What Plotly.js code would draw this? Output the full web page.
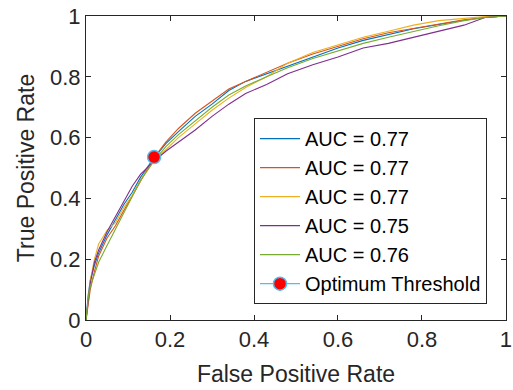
<!DOCTYPE html>
<html>
<head>
<meta charset="utf-8">
<script src="https://cdn.plot.ly/plotly-3.0.1.min.js"></script>
<style>html,body{margin:0;padding:0;background:#fff;}#chart{width:513px;height:390px;}</style>
</head>
<body>
<div id="chart"></div>
<script>
const fpr = [0, 0.005, 0.01, 0.02, 0.03, 0.05, 0.07, 0.09, 0.11, 0.13, 0.16, 0.19, 0.22, 0.26, 0.30, 0.34, 0.38, 0.43, 0.48, 0.54, 0.60, 0.66, 0.72, 0.78, 0.84, 0.90, 0.95, 1];
const tprBlue   = [0, 0.08, 0.13, 0.18, 0.22, 0.28, 0.33, 0.38, 0.42, 0.47, 0.53, 0.58, 0.62, 0.67, 0.71, 0.755, 0.785, 0.81, 0.835, 0.865, 0.895, 0.92, 0.94, 0.958, 0.972, 0.986, 0.995, 1];
const tprOrange = [0, 0.05, 0.10, 0.16, 0.21, 0.27, 0.31, 0.36, 0.41, 0.46, 0.53, 0.585, 0.63, 0.68, 0.72, 0.76, 0.785, 0.815, 0.845, 0.875, 0.90, 0.925, 0.945, 0.96, 0.975, 0.988, 0.996, 1];
const tprYellow = [0, 0.07, 0.13, 0.20, 0.25, 0.295, 0.32, 0.37, 0.41, 0.46, 0.52, 0.56, 0.60, 0.645, 0.69, 0.73, 0.765, 0.80, 0.845, 0.88, 0.905, 0.93, 0.95, 0.97, 0.985, 0.993, 0.998, 1];
const tprPurple = [0, 0.06, 0.12, 0.19, 0.23, 0.29, 0.34, 0.39, 0.44, 0.48, 0.52, 0.555, 0.585, 0.625, 0.67, 0.71, 0.745, 0.775, 0.81, 0.84, 0.865, 0.895, 0.91, 0.93, 0.95, 0.97, 0.995, 1];
const tprGreen  = [0, 0.07, 0.11, 0.15, 0.19, 0.245, 0.30, 0.35, 0.41, 0.46, 0.52, 0.57, 0.61, 0.655, 0.70, 0.74, 0.77, 0.80, 0.83, 0.86, 0.885, 0.91, 0.93, 0.95, 0.968, 0.985, 0.995, 1];
const labels = ["AUC = 0.77", "AUC = 0.77", "AUC = 0.77", "AUC = 0.75", "AUC = 0.76"];
const colors = ["#0072BD", "#D95319", "#EDB120", "#7E2F8E", "#77AC30"];
const optX = [0.162];
const optY = [0.536];
const tickVals = [0, 0.2, 0.4, 0.6, 0.8, 1];
const tickText = ["0", "0.2", "0.4", "0.6", "0.8", "1"];

const series = [tprBlue, tprOrange, tprYellow, tprPurple, tprGreen];
const traces = series.map((ys, i) => ({
  x: fpr, y: ys, type: "scatter", mode: "lines", name: labels[i],
  line: {color: colors[i], width: 1.1}
}));
traces.push({
  x: optX, y: optY, type: "scatter", mode: "lines+markers", name: "Optimum Threshold",
  line: {color: "#4DBEEE", width: 1.1},
  marker: {color: "#FF0000", size: 13, line: {color: "#4DBEEE", width: 1.5}}
});

const FF = "Liberation Sans, Arial, sans-serif";
const axisFont = {family: FF, size: 22, color: "#262626"};
const layout = {
  width: 513, height: 390,
  margin: {l: 86, r: 7, t: 16, b: 70},
  paper_bgcolor: "#fff", plot_bgcolor: "#fff",
  showlegend: true,
  font: {family: FF, color: "#262626"},
  xaxis: {
    range: [-0.0001, 1.0001], tickvals: tickVals, ticktext: tickText, ticklabeloverflow: "allow",
    showgrid: false, zeroline: false, showline: true, linecolor: "#262626", linewidth: 1,
    mirror: "ticks", ticks: "inside", ticklen: 5, tickcolor: "#262626",
    tickfont: axisFont,
    title: {text: "False Positive Rate", font: {family: FF, size: 23, color: "#262626"}, standoff: 14}
  },
  yaxis: {
    range: [-0.0001, 1.0001], tickvals: tickVals, ticktext: tickText,
    showgrid: false, zeroline: false, showline: true, linecolor: "#262626", linewidth: 1,
    mirror: "ticks", ticks: "inside", ticklen: 5, tickcolor: "#262626",
    tickfont: axisFont,
    title: {text: "True Positive Rate", font: {family: FF, size: 23, color: "#262626"}, standoff: 8}
  },
  legend: {
    x: 0.4, y: 0.664, xanchor: "left", yanchor: "top",
    bgcolor: "#fff", bordercolor: "#262626", borderwidth: 1,
    font: {family: FF, size: 20, color: "#000"},
    itemwidth: 40, tracegroupgap: 0
  }
};
Plotly.newPlot("chart", traces, layout, {staticPlot: true, displayModeBar: false});
</script>
</body>
</html>
